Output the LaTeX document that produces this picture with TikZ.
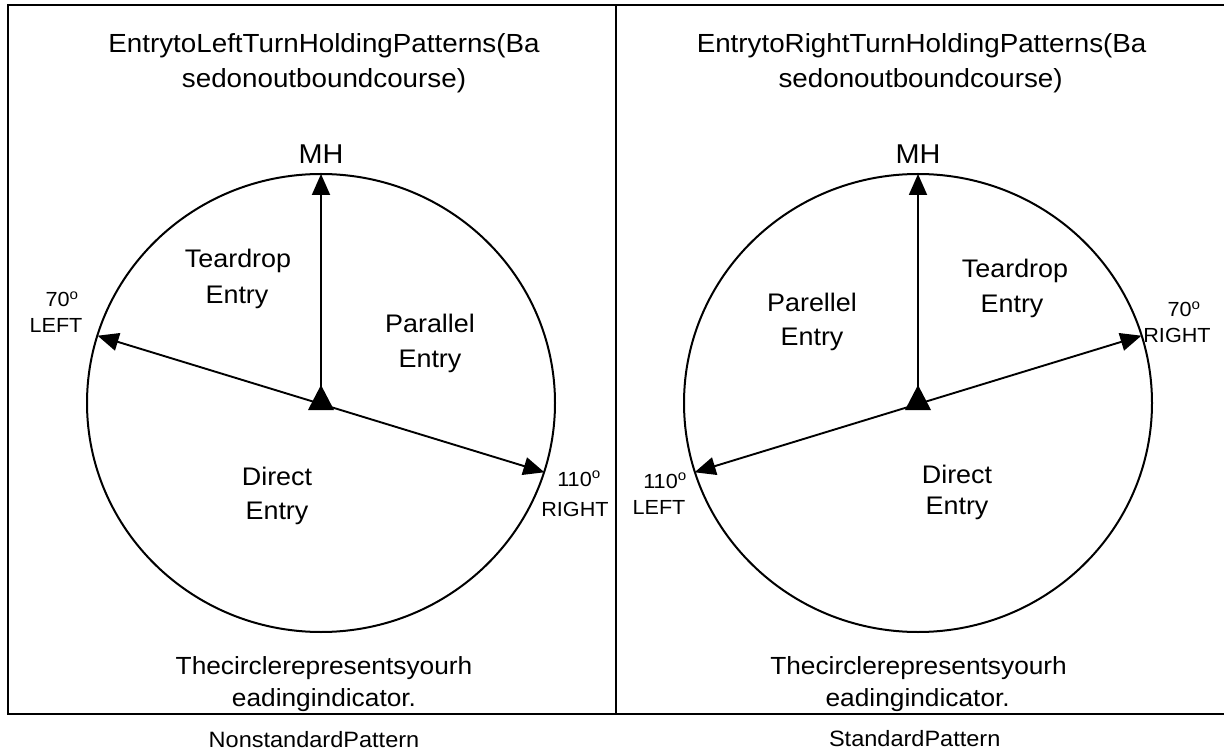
\documentclass[tikz,border=0pt]{standalone}
\usepackage{fontspec}
\setmainfont{Liberation Sans}[FakeStretch=1.06]
\usetikzlibrary{arrows.meta}
\tikzset{
  frame/.style={line width=2pt, line cap=rect},
  ring/.style={line width=2pt},
  arr/.style={line width=1.9pt, -{Triangle[length=21pt,width=18pt]}},
  arrboth/.style={line width=1.9pt, {Triangle[length=21pt,width=18pt]}-{Triangle[length=21pt,width=18pt]}},
  plane/.style={fill=black},
  ttl/.style={anchor=base, inner sep=0pt, font=\fontsize{26.2}{30}\selectfont},
  mh/.style={anchor=base, inner sep=0pt, font=\fontsize{27.2}{30}\selectfont},
  lbl/.style={anchor=base, inner sep=0pt, font=\fontsize{25.4}{30}\selectfont},
  smalllbl/.style={anchor=base, inner sep=0pt, font=\fontsize{20.4}{24}\selectfont},
  note/.style={anchor=base, inner sep=0pt, font=\fontsize{24.8}{30}\selectfont},
  captionlbl/.style={anchor=base, inner sep=0pt, font=\fontsize{22.2}{26}\selectfont},
}
\newcommand{\dg}[1]{#1\textsuperscript{o}}
\begin{document}
\begin{tikzpicture}[x=1pt,y=-1pt]
\useasboundingbox (0,0) rectangle (1224,751);
% frame
\coordinate (f1) at (8,5);
\coordinate (f2) at (1224,5);
\coordinate (f3) at (1224,714);
\coordinate (f4) at (8,714);
\coordinate (d1) at (616,5);
\coordinate (d2) at (616,714);
\draw[frame] (f2) -- (f1) -- (f4) -- (f3);
\draw[frame] (d1) -- (d2);

% ---------- left panel ----------
\node[ttl] (tl1) at (324,53) {EntrytoLeftTurnHoldingPatterns(Ba};
\node[ttl] (tl2) at (324,88) {sedonoutboundcourse)};
\node[mh] (mhL) at (321,164) {MH};
\coordinate (cL) at (321,403);
\coordinate (topL) at (321,174);
\coordinate (lL) at (97.6,335.7);
\coordinate (rL) at (544.4,472.3);
\draw[ring] (cL) ellipse [x radius=234, y radius=229];
\draw[arr] (cL) -- (topL);
\draw[arrboth] (lL) -- (rL);
\fill[plane] (321,385) -- (334,410) -- (308,410) -- cycle;
\node[lbl] (tdL1) at (238,268) {Teardrop};
\node[lbl] (tdL2) at (237,304) {Entry};
\node[lbl] (paL1) at (430,333) {Parallel};
\node[lbl] (paL2) at (430,367) {Entry};
\node[lbl] (diL1) at (277,485) {Direct};
\node[lbl] (diL2) at (277,519) {Entry};
\node[smalllbl] (a70L) at (62,307) {\dg{70}};
\node[smalllbl] (lfL) at (56,333) {LEFT};
\node[smalllbl] (a110L) at (579,486) {\dg{110}};
\node[smalllbl] (rtL) at (575,516) {RIGHT};
\node[note] (nL1) at (324,674) {Thecirclerepresentsyourh};
\node[note] (nL2) at (324,706) {eadingindicator.};
\node[captionlbl] (capL) at (314,747) {NonstandardPattern};

% ---------- right panel ----------
\node[ttl] (tr1) at (921.6,53) {EntrytoRightTurnHoldingPatterns(Ba};
\node[ttl] (tr2) at (920.6,88) {sedonoutboundcourse)};
\node[mh] (mhR) at (918,164) {MH};
\coordinate (cR) at (918,403);
\coordinate (topR) at (918,174);
\coordinate (lR) at (694.6,472.3);
\coordinate (rR) at (1141.4,335.7);
\draw[ring] (cR) ellipse [x radius=234, y radius=229];
\draw[arr] (cR) -- (topR);
\draw[arrboth] (lR) -- (rR);
\fill[plane] (918,385) -- (931,410) -- (905,410) -- cycle;
\node[lbl] (paR1) at (812,312) {Parellel};
\node[lbl] (paR2) at (812,345) {Entry};
\node[lbl] (tdR1) at (1015,278) {Teardrop};
\node[lbl] (tdR2) at (1012,313) {Entry};
\node[lbl] (diR1) at (957,483) {Direct};
\node[lbl] (diR2) at (957,514) {Entry};
\node[smalllbl] (a70R) at (1184,317) {\dg{70}};
\node[smalllbl] (rtR) at (1177,343) {RIGHT};
\node[smalllbl] (a110R) at (665,488) {\dg{110}};
\node[smalllbl] (lfR) at (659,514) {LEFT};
\node[note] (nR1) at (918.6,674) {Thecirclerepresentsyourh};
\node[note] (nR2) at (917.7,706) {eadingindicator.};
\node[captionlbl] (capR) at (914.7,746) {StandardPattern};
\end{tikzpicture}
\end{document}
